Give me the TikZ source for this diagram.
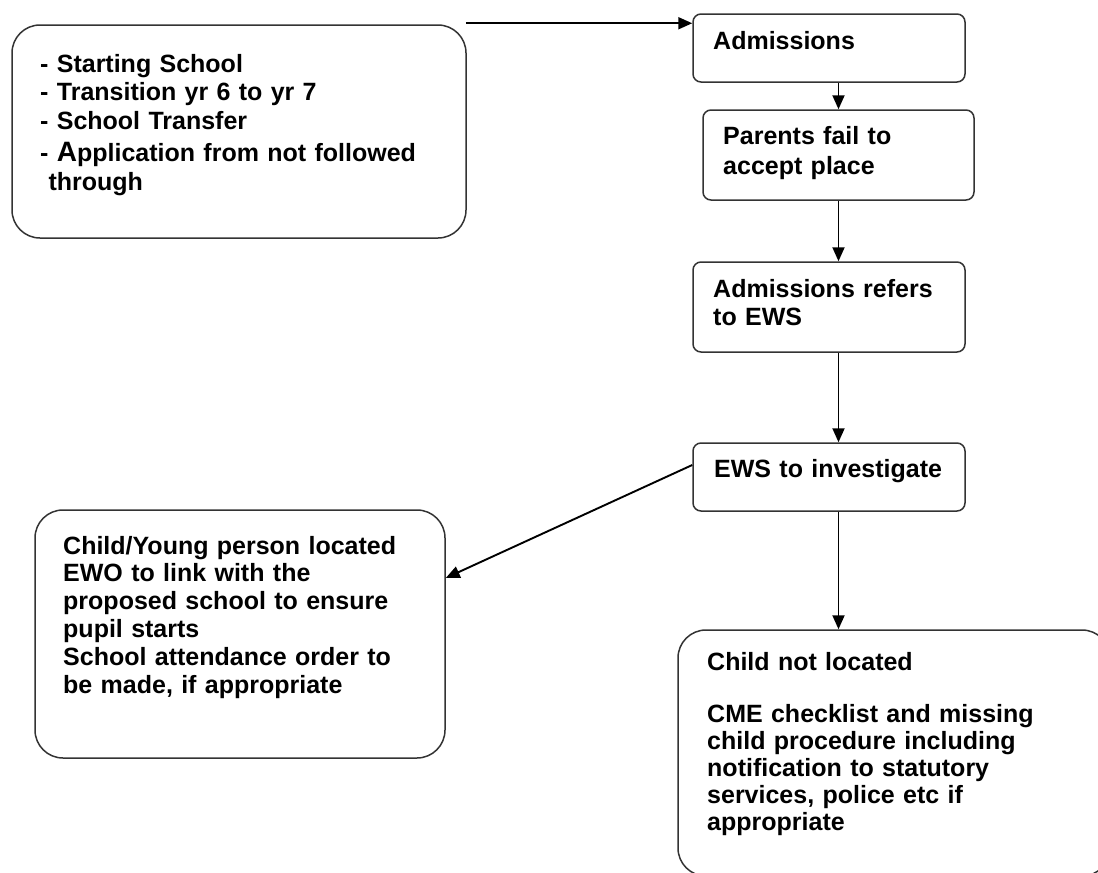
\documentclass[tikz,border=0pt]{standalone}
\usepackage{fontspec}
\setmainfont{Liberation Sans}
\usetikzlibrary{arrows.meta,calc}
\begin{document}
\begin{tikzpicture}[x=1pt,y=-1pt,
  box/.style={draw=black!80,line width=1.5pt,rounded corners=8pt,inner sep=0pt},
  bigbox/.style={box,rounded corners=28pt},
  txt/.style={inner sep=0pt,anchor=base west,align=left,text width=420pt,font=\bfseries\fontsize{25}{28.5}\selectfont},
  arr/.style={draw=black,line width=1.9pt,-{Triangle[length=14pt,width=12pt]}}]
\useasboundingbox (0,0) rectangle (1098,873);
\clip (0,0) rectangle (1098,873);
% boxes
\node[bigbox,minimum width=454pt,minimum height=213pt] (b1) at (239,131.5) {};
\node[box,minimum width=272pt,minimum height=68pt] (adm) at (829,48) {};
\node[box,minimum width=271pt,minimum height=90pt] (par) at (838.5,155) {};
\node[box,minimum width=272pt,minimum height=90pt] (ref) at (829,307) {};
\node[box,minimum width=272pt,minimum height=68pt] (ews) at (829,477) {};
\node[bigbox,minimum width=410pt,minimum height=248pt] (cy) at (240,634) {};
\node[bigbox,minimum width=432pt,minimum height=246pt] (nl) at (894,753) {};
% texts
\node[txt] (t1) at (40,72) {- Starting School\\- Transition yr 6 to yr 7\\- School Transfer\\[4pt]- {\fontsize{28}{28}\selectfont A}pplication from not followed\\\ through};
\node[txt] (t2) at (713,49) {Admissions};
\node[txt,font=\bfseries\fontsize{25}{30}\selectfont] (t3) at (723,144) {Parents fail to\\accept place};
\node[txt,font=\bfseries\fontsize{25}{28}\selectfont] (t4) at (713,297) {Admissions refers\\to EWS};
\node[txt] (t5) at (714,477) {EWS to investigate};
\node[txt,font=\bfseries\fontsize{25}{27.8}\selectfont] (t6) at (63,554) {Child/Young person located\\EWO to link with the\\proposed school to ensure\\pupil starts\\School attendance order to\\be made, if appropriate};
\node[txt,font=\bfseries\fontsize{25}{27}\selectfont] (t7) at (707,670) {Child not located\\[25pt]CME checklist and missing\\child procedure including\\notification to statutory\\services, police etc if\\appropriate};
% connectors
\coordinate (s0) at ($(b1.north east)+(-1,-1)$);
\draw[arr] (s0) -- (s0 -| adm.west);
\draw[arr] (par.north |- adm.south) -- (par.north);
\draw[arr] (par.south) -- (par.south |- ref.north);
\draw[arr] (par.south |- ref.south) -- (par.south |- ews.north);
\draw[arr] ($(ews.west)+(0,-12)$) -- ($(cy.east)+(0,-56)$);
\draw[arr] (par.south |- ews.south) -- (par.south |- nl.north);
\end{tikzpicture}
\end{document}
